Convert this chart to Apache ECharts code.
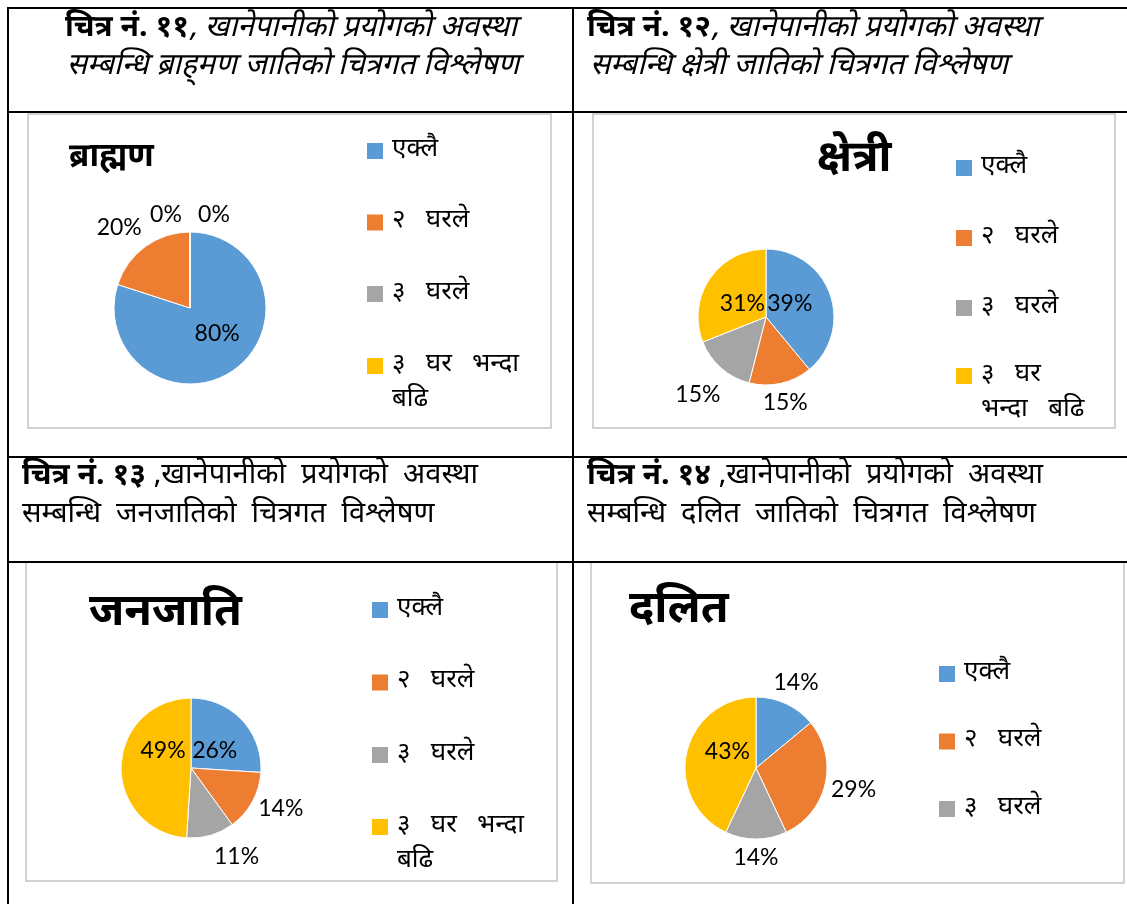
<!DOCTYPE html>
<html>
<head>
<meta charset="utf-8">
<title>खानेपानीको प्रयोगको अवस्था</title>
<script src="https://cdn.jsdelivr.net/npm/echarts@6/dist/echarts.min.js"></script>
<style>
  html, body { margin: 0; padding: 0; background: #fff; }
  #chart { width: 1127px; height: 904px; }
</style>
</head>
<body>
<div id="chart"></div>
<script>
// legend / slice names
const categories = ['एक्लै', '२ घरले', '३ घरले', '३ घर भन्दा बढि'];

// percent of households per group
const brahminValues = [80, 20, 0, 0];
const chhetriValues = [39, 15, 15, 31];
const janajatiValues = [26, 14, 11, 49];
const dalitValues = [14, 29, 14, 43];

const chartTitles = ['ब्राह्मण', 'क्षेत्री', 'जनजाति', 'दलित'];

const DEVA = "'Noto Sans Devanagari', 'Lohit Devanagari', Mangal, 'Noto Sans', sans-serif";
const NUM = "Lato, 'Noto Sans', sans-serif";
const colors = ['#5B9BD5', '#ED7D31', '#A5A5A5', '#FFC000'];
const SP = '   ';

let chart = echarts.init(document.getElementById('chart'), null, { renderer: 'canvas' });

// label placement per slice: position, label distance from rim, small nudge
function pieSeries(name, values, center, radius, place) {
  return {
    type: 'pie',
    name: name,
    center: center,
    radius: radius,
    startAngle: 90,
    clockwise: true,
    avoidLabelOverlap: false,
    animation: false,
    itemStyle: { borderColor: '#fff', borderWidth: 1 },
    label: {
      show: true,
      formatter: '{d}%',
      color: '#000',
      fontFamily: NUM,
      fontSize: 23,
      distanceToLabelLine: 0
    },
    labelLine: { show: false, length: 0, length2: 0 },
    labelLayout: function (p) {
      let n = place[p.dataIndex].nudge || [0, 0];
      return { align: 'center', dx: n[0], dy: n[1] };
    },
    data: values.map(function (v, i) {
      return {
        name: categories[i],
        value: v,
        label: { position: place[i].pos },
        labelLine: { show: false, length: place[i].len || 0, length2: 0 }
      };
    })
  };
}

function legendTop(names, left, top, gap) {
  return {
    data: names,
    orient: 'vertical',
    left: left,
    top: top,
    itemGap: gap,
    padding: 0,
    itemWidth: 16,
    itemHeight: 16,
    icon: 'rect',
    itemStyle: { borderWidth: 0 },
    selectedMode: false,
    textStyle: { fontFamily: DEVA, fontSize: 26, color: '#000', lineHeight: 35, padding: [0, 0, 0, 4] },
    formatter: function (n) { return n.replace(/ /g, SP); }
  };
}

// last item wraps; blank first line keeps the first text line level with the square
function legendWrap(left, top, text) {
  return {
    data: [categories[3]],
    orient: 'vertical',
    left: left,
    top: top,
    padding: 0,
    itemWidth: 16,
    itemHeight: 16,
    icon: 'rect',
    itemStyle: { borderWidth: 0 },
    selectedMode: false,
    textStyle: { fontFamily: DEVA, fontSize: 26, color: '#000', lineHeight: 35, padding: [0, 0, 0, 4] },
    formatter: function () { return '\n' + text; }
  };
}

function line(x1, y1, x2, y2) {
  return { type: 'line', shape: { x1: x1, y1: y1, x2: x2, y2: y2 }, style: { stroke: '#000', lineWidth: 2 }, silent: true };
}
function box(x, y, w, h) {
  return { type: 'rect', shape: { x: x, y: y, width: w, height: h }, style: { fill: '#fff', stroke: '#c4c4c4', lineWidth: 1.5 }, silent: true };
}
function text(x, y, str, size, opts) {
  return {
    type: 'text', x: x, y: y, silent: true,
    style: Object.assign({ text: str, fontFamily: DEVA, fontSize: size, fill: '#000', verticalAlign: 'middle' }, opts || {})
  };
}

const capRich = {
  b: { fontWeight: 'bold', fontSize: 30, fontFamily: DEVA },
  i: { fontStyle: 'italic', fontSize: 30, fontFamily: DEVA },
  n: { fontSize: 29, fontFamily: DEVA }
};

let option = {
  backgroundColor: '#fff',
  color: colors,
  graphic: [
    box(28, 114, 523, 314),
    box(593, 114, 522, 314),
    box(26, 562, 531, 319),
    box(591, 562, 533, 321),
    line(7, 8, 1127, 8),
    line(8, 7, 8, 904),
    line(573, 7, 573, 904),
    line(7, 112, 1127, 112),
    line(7, 457, 1127, 457),
    line(7, 562, 1127, 562),
    text(291, 30, '{b|चित्र नं. ११}{i|, खानेपानीको प्रयोगको अवस्था}', 30, { align: 'center', rich: capRich }),
    text(293, 68, '{i|सम्बन्धि ब्राह्‌मण जातिको चित्रगत विश्लेषण}', 30, { align: 'center', rich: capRich }),
    text(587, 30, '{b|चित्र नं. १२}{i|, खानेपानीको प्रयोगको अवस्था}', 30, { align: 'left', rich: capRich }),
    text(590, 68, '{i|सम्बन्धि क्षेत्री जातिको चित्रगत विश्लेषण}', 30, { align: 'left', rich: capRich }),
    text(22, 478, '{b|चित्र नं. १३}{n| ,खानेपानीको  प्रयोगको  अवस्था}', 29, { align: 'left', rich: capRich }),
    text(22, 517, '{n|सम्बन्धि  जनजातिको  चित्रगत  विश्लेषण}', 29, { align: 'left', rich: capRich }),
    text(587, 478, '{b|चित्र नं. १४}{n| ,खानेपानीको  प्रयोगको  अवस्था}', 29, { align: 'left', rich: capRich }),
    text(587, 517, '{n|सम्बन्धि  दलित  जातिको  चित्रगत  विश्लेषण}', 29, { align: 'left', rich: capRich }),
    text(69, 160, chartTitles[0], 33, { fontWeight: 'bold' }),
    text(817, 163, chartTitles[1], 44, { fontWeight: 'bold' }),
    text(89, 617, chartTitles[2], 45, { fontWeight: 'bold' }),
    text(629, 614, chartTitles[3], 45, { fontWeight: 'bold' })
  ],
  legend: [
    legendTop(categories.slice(0, 3), 367, 133.5, 36.5),
    legendWrap(367, 313.5, '३' + SP + 'घर' + SP + 'भन्दा\nबढि'),
    legendTop(categories.slice(0, 3), 956, 150.5, 35),
    legendWrap(956, 323.5, '३' + SP + 'घर\nभन्दा' + SP + 'बढि'),
    legendTop(categories.slice(0, 3), 372, 592.5, 37.5),
    legendWrap(372, 774.5, '३' + SP + 'घर' + SP + 'भन्दा\nबढि'),
    legendTop(categories.slice(0, 3), 939, 656.5, 32.5)
  ],
  series: [
    pieSeries(chartTitles[0], brahminValues, [190, 308], 76, [
      { pos: 'inside', nudge: [3, -8] },
      { pos: 'outside', len: 24, nudge: [-12, 0] },
      { pos: 'outside', len: 17, nudge: [-24, 0] },
      { pos: 'outside', len: 17, nudge: [24, 0] }
    ]),
    pieSeries(chartTitles[1], chhetriValues, [766, 317], 68, [
      { pos: 'inside', nudge: [-11, -1] },
      { pos: 'outside', len: 20 },
      { pos: 'outside', len: 35 },
      { pos: 'inside', nudge: [7, 7] }
    ]),
    pieSeries(chartTitles[2], janajatiValues, [191, 768], 70, [
      { pos: 'inside', nudge: [-4, 9] },
      { pos: 'outside', len: 29, nudge: [3, -7] },
      { pos: 'outside', len: 25, nudge: [19, -3] },
      { pos: 'inside', nudge: [10, -16] }
    ]),
    pieSeries(chartTitles[3], dalitValues, [756, 768], 71, [
      { pos: 'outside', len: 23 },
      { pos: 'outside', len: 29 },
      { pos: 'outside', len: 19 },
      { pos: 'inside', nudge: [9, -8] }
    ])
  ]
};

chart.setOption(option);
</script>
</body>
</html>
